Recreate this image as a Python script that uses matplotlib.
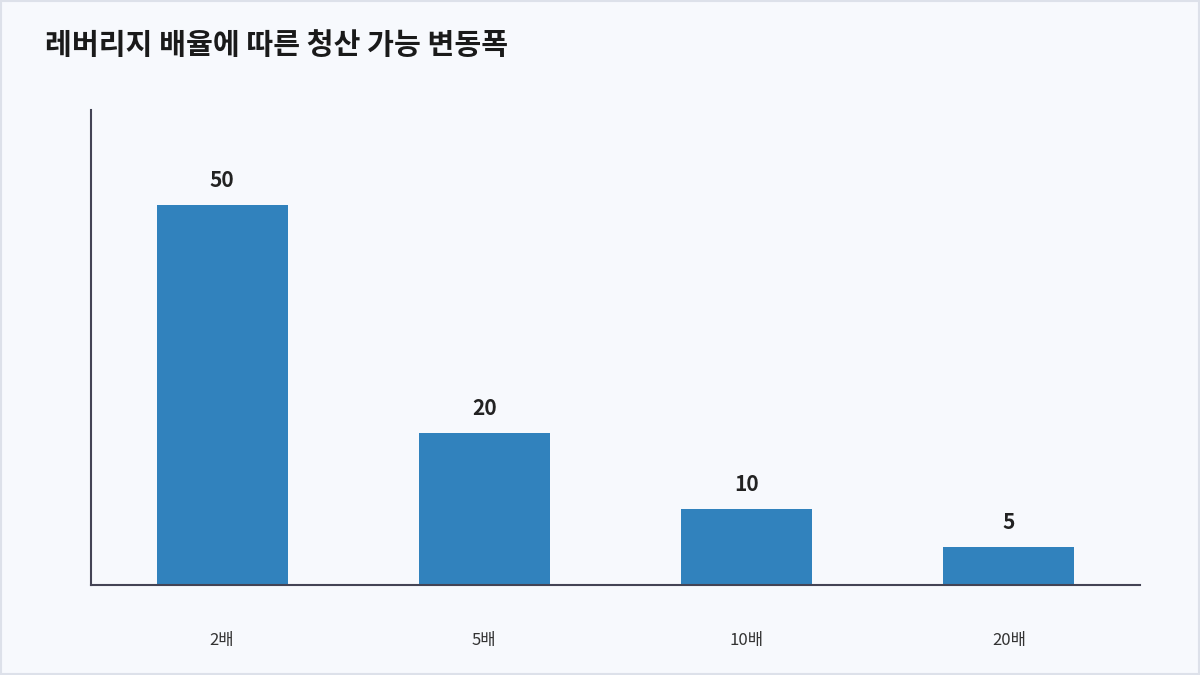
import matplotlib
matplotlib.use("Agg")
import matplotlib.pyplot as plt
from matplotlib.patches import Rectangle

plt.rcParams['font.family'] = ['Noto Sans CJK KR', 'DejaVu Sans']

categories = ["2배", "5배", "10배", "20배"]
values = [50, 20, 10, 5]

bg = "#f7f9fd"
fig = plt.figure(figsize=(12, 6.75), dpi=100, facecolor=bg)
fig.patches.append(Rectangle((0.001, 0.001), 0.998, 0.998, transform=fig.transFigure,
                             fill=False, edgecolor="#dde1ea", lw=1.5))
ax = fig.add_axes([91 / 1200, 1 - 585 / 675, (1140 - 91) / 1200, (585 - 110) / 675])
ax.set_facecolor(bg)

x = range(len(categories))
bars = ax.bar(x, values, width=0.5, color="#3182bd")
for b, v in zip(bars, values):
    ax.annotate(str(v), (b.get_x() + b.get_width() / 2, v), xytext=(0, 10),
                textcoords="offset points", ha="center", va="bottom",
                fontsize=15, fontweight="bold", color="#222222")

ax.set_xlim(-0.5, 3.5)
ax.set_ylim(0, 62.5)
ax.set_xticks(list(x))
ax.set_xticklabels(categories, fontsize=12, color="#333333")
ax.tick_params(axis="x", length=0, pad=34)
ax.set_yticks([])
for s in ["top", "right"]:
    ax.spines[s].set_visible(False)
for s in ["left", "bottom"]:
    ax.spines[s].set_color("#444455")
    ax.spines[s].set_linewidth(1.5)

fig.text(45 / 1200, 1 - 45 / 675, "레버리지 배율에 따른 청산 가능 변동폭", fontsize=21,
         fontweight="bold", color="#1a1a1a", va="center", ha="left")

fig.savefig("out.png", dpi=100, facecolor=bg)
